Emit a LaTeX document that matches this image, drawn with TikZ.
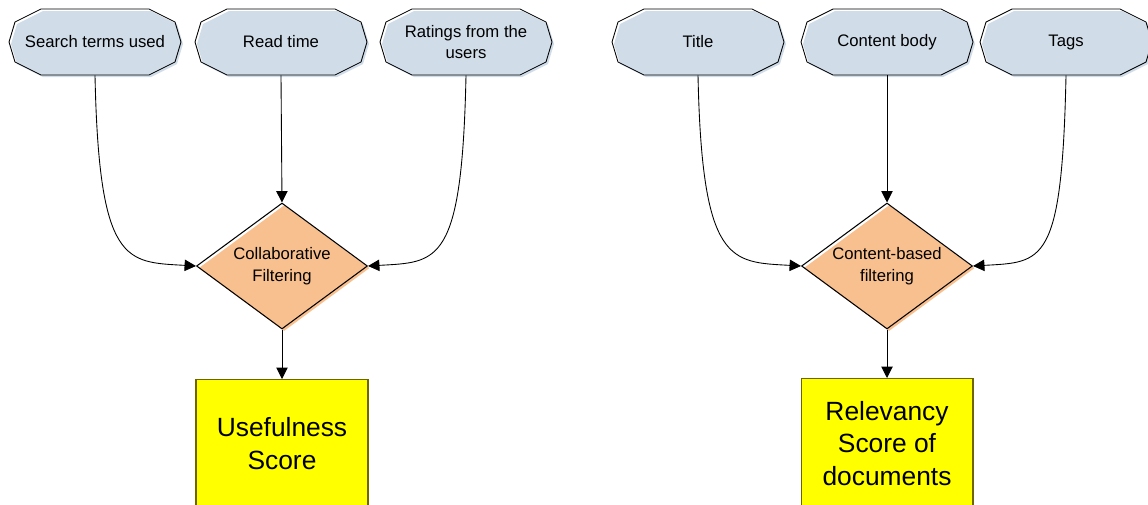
\documentclass[tikz,border=0pt]{standalone}
\usepackage{fontspec}
\setmainfont{Liberation Sans}
\usetikzlibrary{shapes.geometric,arrows.meta,shadows,calc,backgrounds}

\definecolor{inblue}{RGB}{208,221,233}
\definecolor{diapeach}{RGB}{249,192,143}
\definecolor{scoreyellow}{RGB}{255,255,0}
\definecolor{scoreedge}{RGB}{110,100,0}

\newcommand{\octpath}[1]{(#1) ++(-86,0) -- ++(6,-20) -- ++(26,-13) -- ++(108,0) -- ++(26,13) -- ++(6,20) -- ++(-6,20) -- ++(-26,13) -- ++(-108,0) -- ++(-26,-13) -- cycle}

\begin{document}
\begin{tikzpicture}[x=0.02cm,y=-0.02cm,
        input/.style={minimum width=3.44cm,minimum height=1.32cm,inner sep=0pt,align=center,font=\fontsize{9.5}{12}\selectfont},
        method/.style={diamond,draw,line width=0.6pt,aspect=1.36,minimum width=3.42cm,minimum height=2.52cm,inner sep=0pt,align=center,font=\fontsize{9.5}{12.5}\selectfont,drop shadow={fill=diapeach,opacity=1,shadow xshift=1.2pt,shadow yshift=-1.2pt}},
        score/.style={draw=scoreedge,fill=scoreyellow,line width=0.6pt,minimum width=3.44cm,inner sep=0pt,align=center,font=\fontsize{15}{18.5}\selectfont},
        flow/.style={line width=0.5pt,-{Triangle[length=6.5pt,width=6.5pt]}}]
        \useasboundingbox (0,0) rectangle (1148,504);
        \clip (0,0) rectangle (1148,504);

        \node[input] (terms) at (95,42) {Search terms used};
        \node[input] (readtime) at (281,42) {Read time};
        \node[input] (ratings) at (466,42) {Ratings from the\\users};
        \node[input] (title) at (698,42) {Title};
        \node[input] (body) at (887,42) {Content body};
        \node[input] (tags) at (1066,42) {Tags};

        \begin{pgfonlayer}{background}
            \foreach \n in {terms,readtime,ratings,title,body,tags} {
                \fill[inblue] \octpath{$(\n)+(2,2)$};
                \draw[line width=0.5pt] \octpath{\n};
            }
        \end{pgfonlayer}

        \node[method] (collab) at (282,266) {Collaborative\\Filtering};
        \node[method] (content) at (887,266) {Content-based\\filtering};

        \node[score,anchor=north,minimum height=2.56cm] (useful) at (282,379) {Usefulness\\Score};
        \node[score,anchor=north,minimum height=2.6cm] (relevancy) at (887,378) {Relevancy\\Score of\\documents};

        \draw[flow] (terms.south) .. controls +(4,190) and +(-70,-4) .. (collab.west);
        \draw[flow] (readtime.south) -- (collab.north);
        \draw[flow] (ratings.south) .. controls +(-4,190) and +(70,-4) .. (collab.east);
        \draw[flow] (title.south) .. controls +(4,190) and +(-70,-4) .. (content.west);
        \draw[flow] (body.south) -- (content.north);
        \draw[flow] (tags.south) .. controls +(-4,190) and +(70,-4) .. (content.east);
        \draw[flow] (collab.south) -- (useful.north);
        \draw[flow] (content.south) -- (relevancy.north);
    \end{tikzpicture}
\end{document}
